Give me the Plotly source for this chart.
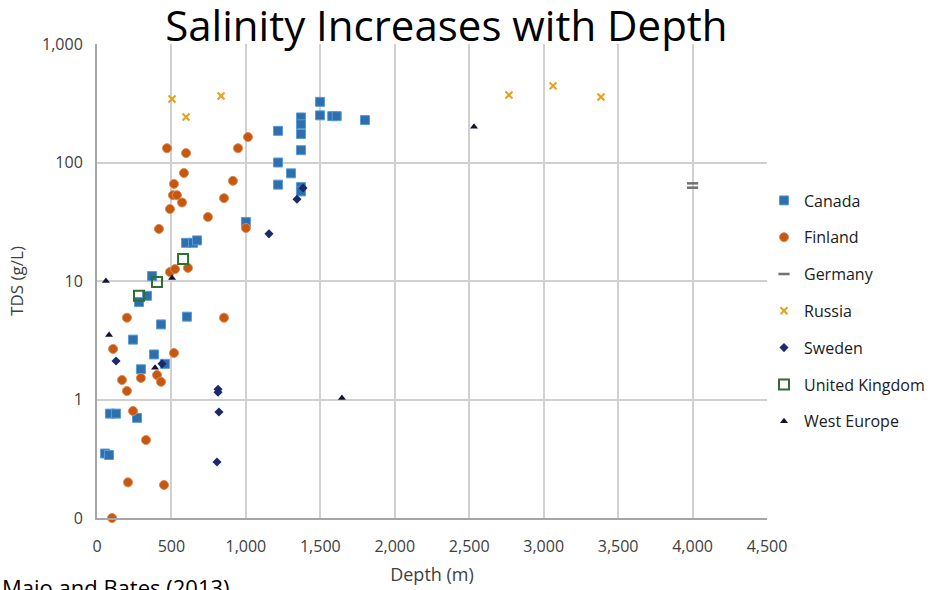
import plotly.graph_objects as go

# ---- data (depth in m, TDS in g/L) ----
canada_depth = [54, 81, 87, 128, 269, 242, 295, 383, 456, 430, 604, 370, 336, 282,
                598, 645, 672, 1000, 1216, 1216, 1216, 1303, 1370, 1370, 1370, 1370,
                1370, 1370, 1498, 1498, 1580, 1610, 1800]
canada_tds = [0.35, 0.34, 0.76, 0.76, 0.70, 3.2, 1.8, 2.4, 2.0, 4.3, 5.0, 11, 7.5, 6.65,
              21, 21, 22, 31.5, 185, 100, 65, 81, 240, 210, 174, 127,
              62, 57, 325, 250, 246, 246, 228]

finland_depth = [101, 208, 450, 329, 242, 201, 168, 295, 403, 430, 517, 108, 201, 853,
                 490, 524, 611, 416, 490, 510, 537, 571, 745, 853, 1000, 470, 598, 584,
                 517, 947, 1014, 913]
finland_tds = [0.1, 0.20, 0.19, 0.455, 0.80, 1.18, 1.46, 1.52, 1.61, 1.41, 2.47, 2.67, 4.9, 4.9,
               11.9, 12.6, 12.9, 27.5, 40.5, 53, 53, 46, 34.7, 50, 28, 132, 120, 81.5,
               66, 132, 164, 70]

germany_depth = [4000, 4000]
germany_tds = [66.7, 61.3]

russia_depth = [504, 598, 833, 2767, 3063, 3385]
russia_tds = [344, 242, 364, 371, 443, 357]

sweden_depth = [128, 437, 813, 813, 819, 806, 1155, 1343, 1384]
sweden_tds = [2.11, 2.0, 1.15, 1.22, 0.785, 0.297, 25, 49, 61]

uk_depth = [282, 403, 578]
uk_tds = [7.5, 9.8, 15.3]

westeurope_depth = [60, 81, 390, 504, 2532, 1645]
westeurope_tds = [10, 3.5, 1.85, 10.6, 200, 1.03]

y_tickvals = [0.1, 1, 10, 100, 1000]
y_ticktext = ["0", "1", "10", "100", "1,000"]
x_tickvals = [0, 500, 1000, 1500, 2000, 2500, 3000, 3500, 4000, 4500]
x_ticktext = ["0", "500", "1,000", "1,500", "2,000", "2,500", "3,000", "3,500", "4,000", "4,500"]

FONT = "Open Sans"
TXT = "#404040"

fig = go.Figure()

def add(name, xs, ys, symbol, color, size, line_color=None, line_width=0):
    fig.add_trace(go.Scatter(
        x=xs, y=ys, mode="markers", name=name, legendgroup=name,
        cliponaxis=False,
        marker=dict(symbol=symbol, color=color, size=size,
                    line=dict(color=line_color or color, width=line_width)),
    ))

add("Canada", canada_depth, canada_tds, "square", "#2e6fad", 9, "#5b9bd5", 1)
add("Finland", finland_depth, finland_tds, "circle", "#c5570f", 9, "#e08a55", 1)
add("Germany", germany_depth, germany_tds, "line-ew", "#707070", 8, "#707070", 2.5)
add("Russia", russia_depth, russia_tds, "x-thin", "#e3a21a", 7, "#e3a21a", 2)
add("Sweden", sweden_depth, sweden_tds, "diamond", "#1a2a6c", 7, "#1a2a6c", 0)
add("United Kingdom", uk_depth, uk_tds, "square-open", "#2f6e2f", 10, "#2f6e2f", 2)
add("West Europe", westeurope_depth, westeurope_tds, "triangle-up", "#0d1533", 7, "#0d1533", 0)

fig.update_layout(
    width=932, height=590,
    margin=dict(l=97, r=165, t=44, b=72, autoexpand=False),
    paper_bgcolor="white", plot_bgcolor="white",
    font=dict(family=FONT, color=TXT, size=13),
    title=dict(text="Salinity Increases with Depth", x=0.479, xanchor="center",
               y=1 - 26 / 590, yanchor="middle", yref="container",
               font=dict(family="Open Sans", size=42, color="#000000")),
    legend=dict(xref="container", x=764 / 932, xanchor="left",
                yref="container", y=1 - 311 / 590, yanchor="middle",
                font=dict(family=FONT, size=16, color="#202020"),
                tracegroupgap=13, itemwidth=30, bgcolor="rgba(0,0,0,0)"),
    showlegend=True,
)

fig.update_xaxes(
    range=[0, 4500], tickvals=x_tickvals, ticktext=x_ticktext,
    showgrid=True, gridcolor="#d0d0d0", gridwidth=2,
    showline=True, linecolor="#a6a6a6", linewidth=2,
    zeroline=False, ticks="", ticklabelstandoff=13,
    tickfont=dict(family=FONT, size=16, color=TXT),
    title=dict(text="Depth (m)", font=dict(family=FONT, size=18, color=TXT), standoff=12),
)
fig.update_yaxes(
    type="log", range=[-1, 3], tickvals=y_tickvals, ticktext=y_ticktext,
    showgrid=True, gridcolor="#d0d0d0", gridwidth=2,
    showline=True, linecolor="#a6a6a6", linewidth=2,
    zeroline=False, ticks="", ticklabelstandoff=9,
    tickfont=dict(family=FONT, size=16, color=TXT),
    title=dict(text="TDS (g/L)", font=dict(family=FONT, size=17, color=TXT), standoff=14),
)

fig.add_annotation(text="Maio and Bates (2013)", xref="paper", yref="paper",
                   x=-97 / 670, xanchor="left", y=-52 / 474, yanchor="top",
                   showarrow=False, font=dict(family=FONT, size=22, color="#000000"))

fig.write_html("out.html")
